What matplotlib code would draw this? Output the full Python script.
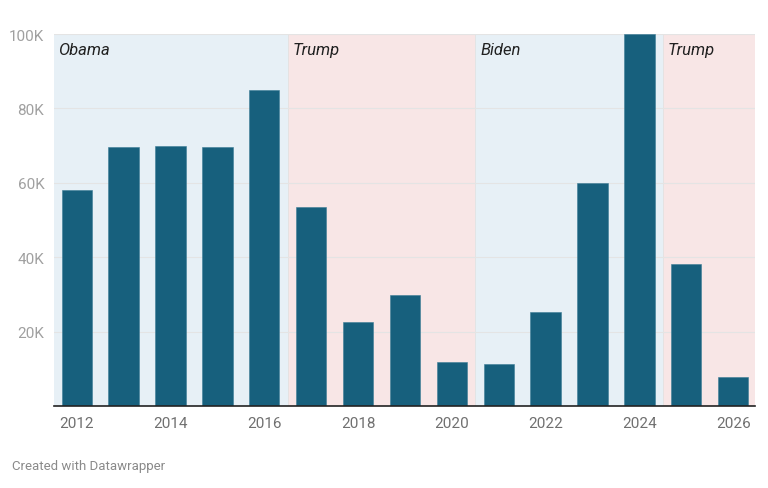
import matplotlib.pyplot as plt

plt.rcParams['font.family'] = ['Roboto', 'DejaVu Sans']

# ====== data ======
years = list(range(2012, 2027))
values = [58100, 69700, 69900, 69700, 84900, 53600, 22600, 29800,
          11800, 11300, 25300, 59900, 100000, 38200, 7800]

# presidencies: (label, first year, last year, party)
terms = ["Obama", "Trump", "Biden", "Trump"]
term_start = [2012, 2017, 2021, 2025]
term_end = [2016, 2020, 2024, 2026]
term_party = ["D", "R", "D", "R"]

yticks = [20000, 40000, 60000, 80000, 100000]
ytick_labels = ["20K", "40K", "60K", "80K", "100K"]
xticks = [2012, 2014, 2016, 2018, 2020, 2022, 2024, 2026]

bar_color = "#17607d"
bg_colors = {"D": "#e7f0f6", "R": "#f8e6e6"}
grey = "#8a8a8a"

fig = plt.figure(figsize=(7.68, 4.89), dpi=100)
ax = fig.add_axes([54 / 768, 0.1677, 701 / 768, 0.7607])

# background shading per term
for name, s, e, p in zip(terms, term_start, term_end, term_party):
    ax.axvspan(s - 0.5, e + 0.5, color=bg_colors[p], lw=0, zorder=0)
    ax.text(s - 0.39, 95800, name, style="italic", fontsize=12,
            color="#222222", ha="left", va="center", zorder=4)

# boundary lines between terms
for s in term_start[1:]:
    ax.axvline(s - 0.5, color="#e2e2e2", lw=0.6, zorder=1)

for y in yticks:
    ax.axhline(y, color="#e4e4e4", lw=0.8, zorder=1)

ax.bar(years, values, width=0.646, color=bar_color, zorder=3,
       edgecolor="#3d7d96", linewidth=0.4)

ax.set_xlim(2011.516, 2026.466)
ax.set_ylim(0, 100000)
ax.set_yticks(yticks)
ax.set_yticklabels(ytick_labels)
ax.set_xticks(xticks)
ax.set_xticklabels([str(x) for x in xticks])

for side in ["top", "right", "left"]:
    ax.spines[side].set_visible(False)
ax.spines["bottom"].set_color("#222222")
ax.spines["bottom"].set_linewidth(1.2)
ax.spines["bottom"].set_zorder(5)

ax.tick_params(axis="both", length=0, labelsize=11, colors=grey)
ax.tick_params(axis="y", pad=7)
ax.tick_params(axis="x", pad=7)
for lbl in ax.get_yticklabels():
    lbl.set_color("#a0a0a0")
for lbl in ax.get_xticklabels():
    lbl.set_color("#707070")

fig.text(0.0156, 1 - 467 / 489, "Created with Datawrapper", fontsize=9.5,
         color="#8a8a8a", ha="left", va="center")

fig.savefig("out.png", dpi=100, facecolor="white")
